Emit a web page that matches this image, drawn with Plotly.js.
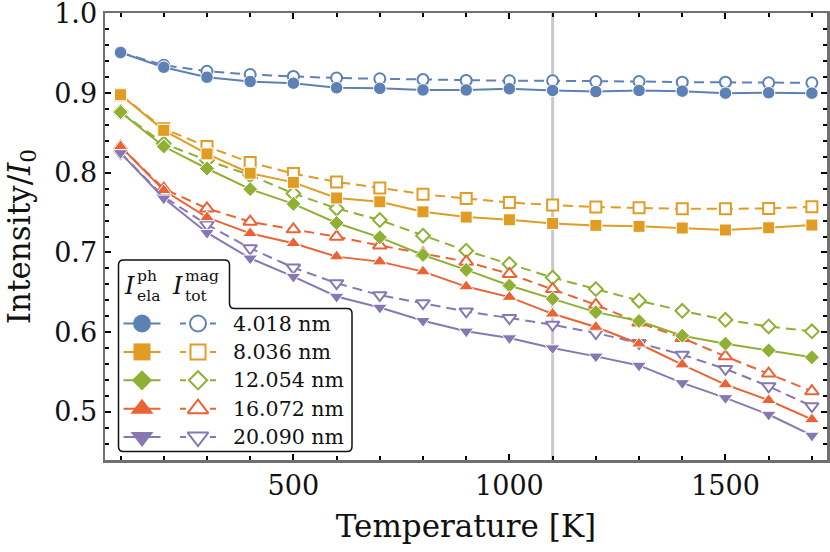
<!DOCTYPE html>
<html>
<head>
<meta charset="utf-8">
<script src="https://cdn.plot.ly/plotly-3.0.1.min.js"></script>
<style>
  html, body { margin: 0; padding: 0; background: #fff; }
  #chart { width: 830px; height: 552px; }
</style>
</head>
<body>
<div id="chart"></div>
<script>
// temperatures (K) and cell sizes
const temperatures = [100, 200, 300, 400, 500, 600, 700, 800, 900, 1000, 1100, 1200, 1300, 1400, 1500, 1600, 1700];
const sizeLabels = ["4.018 nm", "8.036 nm", "12.054 nm", "16.072 nm", "20.090 nm"];
const markedTemperature = 1100;

// I_ela^ph (solid, filled markers)
const ela4018 = [0.951, 0.9325, 0.920, 0.9146, 0.9125, 0.9068, 0.906, 0.904, 0.904, 0.9055, 0.9034, 0.902, 0.9034, 0.9025, 0.900, 0.9005, 0.900];
const ela8036 = [0.898, 0.8533, 0.8237, 0.7995, 0.788, 0.7684, 0.7636, 0.751, 0.7444, 0.741, 0.7365, 0.734, 0.7328, 0.7307, 0.7282, 0.731, 0.7344];
const ela12054 = [0.8762, 0.833, 0.8054, 0.7795, 0.761, 0.737, 0.719, 0.6969, 0.6781, 0.6585, 0.6418, 0.6251, 0.614, 0.5955, 0.5855, 0.5771, 0.5684];
const ela16072 = [0.833, 0.778, 0.744, 0.724, 0.7115, 0.6948, 0.6885, 0.676, 0.6572, 0.644, 0.623, 0.6064, 0.5854, 0.5592, 0.5342, 0.5145, 0.4904];
const ela20090 = [0.825, 0.768, 0.7248, 0.6927, 0.6697, 0.6447, 0.631, 0.6143, 0.601, 0.5926, 0.580, 0.5696, 0.5582, 0.5363, 0.5175, 0.4966, 0.4703];

// I_tot^mag (dashed, open markers)
const tot4018 = [0.951, 0.935, 0.9275, 0.9234, 0.921, 0.919, 0.918, 0.917, 0.916, 0.9155, 0.9155, 0.9146, 0.9146, 0.9138, 0.9138, 0.913, 0.913];
const tot8036 = [0.898, 0.8554, 0.833, 0.813, 0.799, 0.7886, 0.781, 0.7732, 0.7678, 0.7628, 0.7595, 0.757, 0.756, 0.7548, 0.7548, 0.7553, 0.7573];
const tot12054 = [0.8762, 0.8367, 0.8158, 0.797, 0.774, 0.7553, 0.7407, 0.721, 0.7022, 0.6856, 0.6685, 0.654, 0.6395, 0.6268, 0.6155, 0.6071, 0.601];
const tot16072 = [0.833, 0.780, 0.7553, 0.7386, 0.729, 0.7198, 0.7088, 0.699, 0.6885, 0.6731, 0.654, 0.6343, 0.612, 0.5926, 0.5696, 0.548, 0.5258];
const tot20090 = [0.825, 0.770, 0.735, 0.7053, 0.681, 0.6614, 0.6464, 0.6364, 0.626, 0.6177, 0.6093, 0.5989, 0.5864, 0.5717, 0.5538, 0.532, 0.507];

const elaSeries = [ela4018, ela8036, ela12054, ela16072, ela20090];
const totSeries = [tot4018, tot8036, tot12054, tot16072, tot20090];

// Mathematica-ish default palette
const colors = ["#5E81B5", "#E19C24", "#8FB032", "#EB6235", "#8778B3"];
const symbols = ["circle", "square", "diamond", "triangle-up", "triangle-down"];
const plotSize = [12.5, 12, 11.5, 13, 13];
const openSize = [11, 11, 10.5, 12, 12];
const keySize = [18, 17, 15.5, 20, 20];
const keyOpenSize = [16, 15, 14, 18, 18];

const FONT = "DejaVu Serif";
const W = 830, H = 552;
const M = { l: 105, r: 3, t: 13, b: 92 };

const traces = [];

// dashed first, solid on top
totSeries.forEach((ys, i) => {
  traces.push({
    x: temperatures, y: ys, type: "scatter", mode: "lines+markers",
    line: { color: colors[i], width: 2, dash: "10px,6px" },
    marker: { symbol: symbols[i], size: openSize[i], color: "white", line: { color: colors[i], width: 2 } },
    hoverinfo: "skip", showlegend: false
  });
});
elaSeries.forEach((ys, i) => {
  traces.push({
    x: temperatures, y: ys, type: "scatter", mode: "lines+markers",
    line: { color: colors[i], width: 2 },
    marker: { symbol: symbols[i], size: plotSize[i], color: colors[i], line: { color: "white", width: 1 } },
    hoverinfo: "skip", showlegend: false
  });
});

// legend key, drawn in a pixel-space overlay (x2/y2)
const key = { left: 118.5, top: 260, notchX: 229.5, notchY: 308.5, right: 352, bottom: 451.5, r: 5,
              row0: 323.5, step: 28.4, solid: [123.5, 160.5], dashed: [180, 216], textX: 231 };
const rowY = i => key.row0 + i * key.step;
const mid = a => (a[0] + a[1]) / 2;

sizeLabels.forEach((lab, i) => {
  const y = rowY(i);
  traces.push({ x: key.solid, y: [y, y], xaxis: "x2", yaxis: "y2", mode: "lines",
    line: { color: colors[i], width: 2 }, hoverinfo: "skip", showlegend: false });
  traces.push({ x: key.dashed, y: [y, y], xaxis: "x2", yaxis: "y2", mode: "lines",
    line: { color: colors[i], width: 2, dash: "6px,24px" }, hoverinfo: "skip", showlegend: false });
  traces.push({ x: [mid(key.solid)], y: [y], xaxis: "x2", yaxis: "y2", mode: "markers",
    marker: { symbol: symbols[i], size: keySize[i], color: colors[i] }, hoverinfo: "skip", showlegend: false });
  traces.push({ x: [mid(key.dashed)], y: [y], xaxis: "x2", yaxis: "y2", mode: "markers",
    marker: { symbol: symbols[i], size: keyOpenSize[i], color: "white", line: { color: colors[i], width: 2 } },
    hoverinfo: "skip", showlegend: false });
});

const k = key;
const boxPath =
  `M${k.left + k.r},${k.top} L${k.notchX - k.r},${k.top} Q${k.notchX},${k.top} ${k.notchX},${k.top + k.r} ` +
  `L${k.notchX},${k.notchY - k.r} Q${k.notchX},${k.notchY} ${k.notchX + k.r},${k.notchY} ` +
  `L${k.right - k.r},${k.notchY} Q${k.right},${k.notchY} ${k.right},${k.notchY + k.r} ` +
  `L${k.right},${k.bottom - k.r} Q${k.right},${k.bottom} ${k.right - k.r},${k.bottom} ` +
  `L${k.left + k.r},${k.bottom} Q${k.left},${k.bottom} ${k.left},${k.bottom - k.r} ` +
  `L${k.left},${k.top + k.r} Q${k.left},${k.top} ${k.left + k.r},${k.top} Z`;

const annotations = sizeLabels.map((lab, i) => ({
  text: lab, xref: "x2", yref: "y2", x: key.textX, y: rowY(i), xanchor: "left", yanchor: "middle",
  showarrow: false, font: { family: FONT, size: 20.5, color: "#111" }
}));
// header: I^ph_ela and I^mag_tot
[[129, "ph", "ela"], [177.5, "mag", "tot"]].forEach(([cx, sup, sub]) => {
  annotations.push({ text: "<i>I</i>", xref: "x2", yref: "y2", x: cx, y: 285.5, xanchor: "center", yanchor: "middle",
    showarrow: false, font: { family: FONT, size: 24, color: "#111" } });
  annotations.push({ text: sup, xref: "x2", yref: "y2", x: cx + 5.5, y: 276, xanchor: "left", yanchor: "middle",
    showarrow: false, font: { family: FONT, size: 15.5, color: "#111" } });
  annotations.push({ text: sub, xref: "x2", yref: "y2", x: cx + 5.5, y: 296, xanchor: "left", yanchor: "middle",
    showarrow: false, font: { family: FONT, size: 15.5, color: "#111" } });
});

const frame = { showline: true, linecolor: "#707070", linewidth: 2.5, mirror: "allticks",
  ticks: "inside", tickcolor: "#000", tickwidth: 2, zeroline: false, showgrid: false,
  ticklabeloverflow: "allow" };

const layout = {
  width: W, height: H, margin: M,
  paper_bgcolor: "white", plot_bgcolor: "white", showlegend: false,
  font: { family: FONT, color: "#111" },
  xaxis: Object.assign({}, frame, {
    range: [64, 1735], dtick: 500, tick0: 0, ticklen: 6,
    minor: { dtick: 100, tick0: 0, ticks: "inside", ticklen: 4, tickwidth: 2, tickcolor: "#000" },
    tickfont: { family: FONT, size: 27, color: "#111" },
    title: { text: "Temperature [K]", font: { family: FONT, size: 31, color: "#111" }, standoff: 16 }
  }),
  yaxis: Object.assign({}, frame, {
    range: [0.4395, 1.0006], dtick: 0.1, tick0: 0, ticklen: 6, tickformat: ".1f",
    minor: { dtick: 0.02, tick0: 0, ticks: "inside", ticklen: 4, tickwidth: 2, tickcolor: "#000" },
    tickfont: { family: FONT, size: 27, color: "#111" },
    title: { text: "Intensity/<i>I</i><sub>0</sub>", font: { family: FONT, size: 31, color: "#111" }, standoff: 15 }
  }),
  xaxis2: { overlaying: "x", range: [M.l, W - M.r], visible: false, fixedrange: true },
  yaxis2: { overlaying: "y", range: [H - M.b, M.t], visible: false, fixedrange: true },
  shapes: [
    { type: "line", xref: "x", yref: "paper", x0: markedTemperature, x1: markedTemperature, y0: 0, y1: 1,
      line: { color: "#c9c9c9", width: 3 }, layer: "below" },
    { type: "path", xref: "x2", yref: "y2", path: boxPath, fillcolor: "white",
      line: { color: "#111", width: 1.5 }, layer: "below" }
  ],
  annotations
};

Plotly.newPlot("chart", traces, layout, { displayModeBar: false, staticPlot: true });
</script>
</body>
</html>
